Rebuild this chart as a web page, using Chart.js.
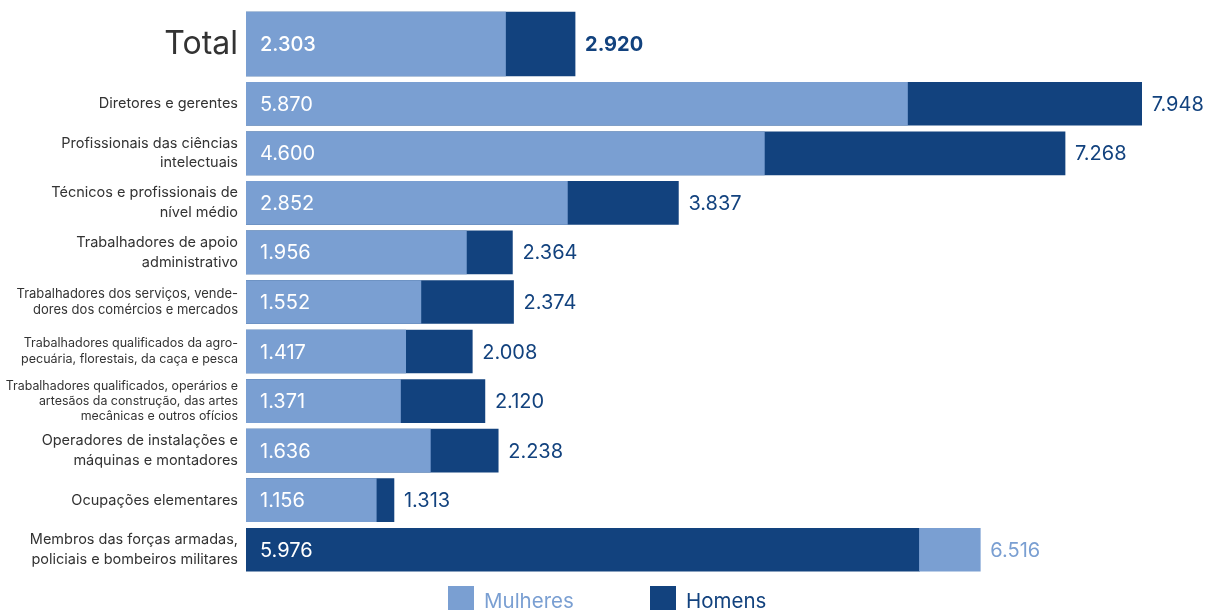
<!DOCTYPE html>
<html lang="pt-BR">
<head>
  <meta charset="UTF-8" />
  <title>Rendimento médio por grupos de ocupação</title>
  <script src="https://cdn.jsdelivr.net/npm/chart.js"></script>
  <style>
    html, body { margin: 0; padding: 0; background: #fff; overflow: hidden; }
    body { width: 1205px; height: 610px; position: relative; }
    #graficoTotal { position: absolute; left: 0; top: 0; }
    #graficoGrupos { position: absolute; left: 0; top: 79px; }
  </style>
</head>
<body>
  <canvas id="graficoTotal" width="1205" height="88"></canvas>
  <canvas id="graficoGrupos" width="1205" height="531"></canvas>

  <script>
    const totalMulheres = 2303;
    const totalHomens = 2920;

    const grupos = [
      'Diretores e gerentes',
      ['Profissionais das ciências', 'intelectuais'],
      ['Técnicos e profissionais de', 'nível médio'],
      ['Trabalhadores de apoio', 'administrativo'],
      ['Trabalhadores dos serviços, vende-', 'dores dos comércios e mercados'],
      ['Trabalhadores qualificados da agro-', 'pecuária, florestais, da caça e pesca'],
      ['Trabalhadores qualificados, operários e', 'artesãos da construção, das artes', 'mecânicas e outros ofícios'],
      ['Operadores de instalações e', 'máquinas e montadores'],
      'Ocupações elementares',
      ['Membros das forças armadas,', 'policiais e bombeiros militares']
    ];
    const mulheres = [5870, 4600, 2852, 1956, 1552, 1417, 1371, 1636, 1156, 6516];
    const homens = [7948, 7268, 3837, 2364, 2374, 2008, 2120, 2238, 1313, 5976];

    const corMulheres = '#7a9fd2';
    const corHomens = '#12427e';
    const fonte = 'Inter, "Noto Sans", sans-serif';
    const escalaMax = 8510;

    const formata = v => String(v).replace(/\B(?=(\d{3})+(?!\d))/g, '.');

    // a barra menor fica na frente; quando mulheres > homens ela comeca onde a dos homens acaba
    const frente = (w, m) => w < m ? w : [m, w];

    // rotulos de valor: o menor dentro da barra, o maior depois do fim
    const rotulos = {
      id: 'rotulos',
      afterDatasetsDraw(chart, args, opts) {
        const ctx = chart.ctx;
        const metaM = chart.getDatasetMeta(0);
        const metaH = chart.getDatasetMeta(1);
        const dadosM = opts.mulheres, dadosH = opts.homens;
        ctx.save();
        ctx.textBaseline = 'middle';
        metaM.data.forEach((barra, i) => {
          const w = dadosM[i], m = dadosH[i];
          const y = barra.y;
          ctx.textAlign = 'left';
          ctx.fillStyle = '#fff';
          ctx.font = (opts.pesoDentro || 400) + ' 20px ' + fonte;
          ctx.fillText(formata(Math.min(w, m)), chart.chartArea.left + 14, y + 1);
          const maior = w > m ? barra : metaH.data[i];
          ctx.fillStyle = w > m ? corMulheres : corHomens;
          ctx.font = (opts.pesoFora || 400) + ' 20px ' + fonte;
          ctx.fillText(formata(Math.max(w, m)), maior.x + 10, y + 1);
        });
        ctx.restore();
      }
    };

    // legenda desenhada embaixo das barras
    const legenda = {
      id: 'legenda',
      afterDraw(chart) {
        const ctx = chart.ctx;
        const topo = chart.chartArea.bottom + 11.5;
        let x = 448;
        ctx.save();
        ctx.font = '400 20.5px ' + fonte;
        ctx.textBaseline = 'alphabetic';
        ctx.textAlign = 'left';
        chart.data.datasets.forEach(ds => {
          ctx.fillStyle = ds.backgroundColor;
          ctx.fillRect(x, topo, 26, 26);
          ctx.fillText(ds.label, x + 36, topo + 22);
          x += 202;
        });
        ctx.restore();
      }
    };

    function opcoes(fonteTicks) {
      return {
        responsive: false,
        animation: false,
        indexAxis: 'y',
        layout: { padding: 0 },
        plugins: { legend: { display: false }, tooltip: { enabled: false } },
        scales: {
          x: { display: false, min: 0, max: escalaMax },
          y: {
            afterFit: scale => {
              scale.width = 246;
              scale.paddingTop = 0;
              scale.paddingBottom = 0;
            },
            grid: { display: false, drawTicks: false },
            border: { display: false },
            ticks: { padding: 8, color: '#333', font: fonteTicks }
          }
        }
      };
    }

    const opTotal = opcoes({ family: fonte, size: 32, weight: 400 });
    opTotal.plugins.rotulos = { mulheres: [totalMulheres], homens: [totalHomens], pesoDentro: 500, pesoFora: 700 };
    new Chart(document.getElementById('graficoTotal'), {
      type: 'bar',
      data: {
        labels: ['Total'],
        datasets: [
          { label: 'Mulheres', data: [frente(totalMulheres, totalHomens)], backgroundColor: corMulheres, barThickness: 64, grouped: false, order: 1 },
          { label: 'Homens', data: [totalHomens], backgroundColor: corHomens, barThickness: 64, grouped: false, order: 2 }
        ]
      },
      options: opTotal,
      plugins: [rotulos]
    });

    const opGrupos = opcoes(ctx => {
      if (ctx.index === 6) return { family: fonte, size: 12.4, lineHeight: 1.2 };
      if (ctx.index === 4) return { family: fonte, size: 13, lineHeight: 1.24 };
      if (ctx.index === 5) return { family: fonte, size: 12.5, lineHeight: 1.28 };
      return { family: fonte, size: 14.5, lineHeight: 1.35 };
    });
    opGrupos.layout.padding = { bottom: 35.5 };
    opGrupos.plugins.rotulos = { mulheres: mulheres, homens: homens };
    new Chart(document.getElementById('graficoGrupos'), {
      type: 'bar',
      data: {
        labels: grupos,
        datasets: [
          { label: 'Mulheres', data: mulheres.map((w, i) => frente(w, homens[i])), backgroundColor: corMulheres, barThickness: 43, grouped: false, order: 1 },
          { label: 'Homens', data: homens, backgroundColor: corHomens, barThickness: 43, grouped: false, order: 2 }
        ]
      },
      options: opGrupos,
      plugins: [rotulos, legenda]
    });
  </script>
</body>
</html>
